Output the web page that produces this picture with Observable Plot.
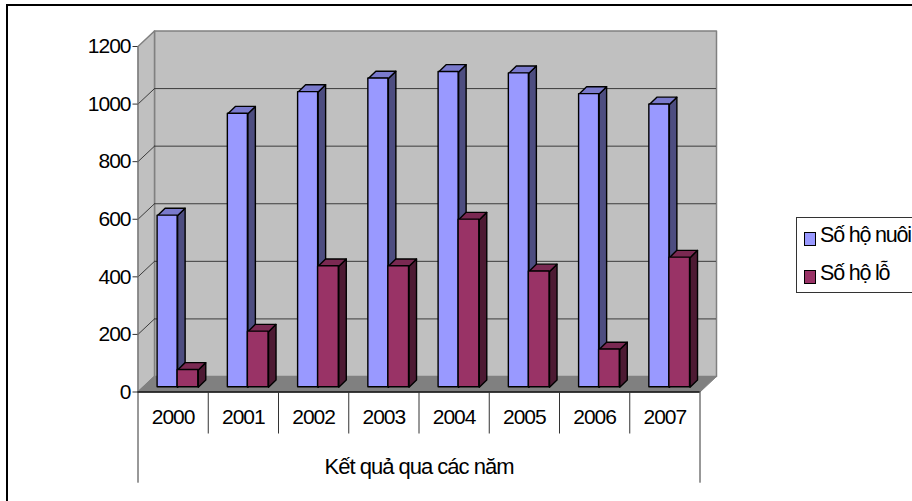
<!DOCTYPE html>
<html>
<head>
<meta charset="utf-8">
<script src="https://cdn.jsdelivr.net/npm/d3@7"></script>
<script src="https://cdn.jsdelivr.net/npm/@observablehq/plot@0.6"></script>
<style>
  html, body { margin: 0; padding: 0; background: #fff; overflow: hidden; }
  #stage { position: relative; width: 912px; height: 501px; overflow: hidden; font-family: "Liberation Sans", Arial, sans-serif; }
  #stage svg { position: absolute; left: 0; top: 0; }
  #frame { position: absolute; left: 6px; top: 4px; right: -4px; bottom: -4px; border: 2px solid #000; }
  #legend { position: absolute; left: 796px; top: 217px; width: 130px; height: 76px; box-sizing: border-box; border: 1px solid #333; background: #fff; }
  #legend .sw { position: absolute; left: 6.5px; width: 10px; height: 12px; border: 1px solid #000; }
  #legend .lb { position: absolute; left: 23px; font-size: 21.5px; letter-spacing: -1.2px; line-height: 24px; white-space: nowrap; color: #000; }
</style>
</head>
<body>
<div id="stage"><div id="frame"></div></div>
<script>
// Household counts per year
const years = [2000, 2001, 2002, 2003, 2004, 2005, 2006, 2007];
const soHoNuoi = [596, 950, 1025, 1072, 1095, 1090, 1018, 982];
const soHoLo = [60, 193, 420, 420, 582, 402, 131, 450];
const yTicks = [0, 200, 400, 600, 800, 1000, 1200];
const seriesNames = ["Số hộ nuôi", "Số hộ lỗ"];
const axisTitle = "Kết quả qua các năm";

// Colours: front, top and side face of each series, plus the chart box
const blue = { front: "#9999FF", top: "#7A7ACC", side: "#4D4D80" };
const maroon = { front: "#993366", top: "#7A2952", side: "#4D1A33" };
const wallFill = "#C0C0C0", floorFill = "#808080", edge = "#808080", gridStroke = "#3C3C3C";

// Plot area in pixels; the oblique projection is expressed in data units through these
const plotLeft = 137.5, plotRight = 699.5, plotBase = 391.5, plotTop = 46;
const unitsX = px => px * 8 / (plotRight - plotLeft);
const unitsY = px => px * 1200 / (plotBase - plotTop);

const wallDX = unitsX(16.5), wallDY = unitsY(15.5);
const barDX = unitsX(7.5), barDY = unitsY(7.3);
const barBase = unitsY(4.8);
const slots = [[0.279, 0.564], [0.564, 0.858]];

// Closed polygons drawn with a line mark: one row per corner, grouped by face
function polygon(corners, options) {
  const rows = corners.flatMap((c, i) => c.map(([x, y]) => ({ id: i, x, y })));
  return Plot.line(rows, { x: "x", y: "y", z: "id", curve: "linear-closed", ...options });
}

function barMarks(values, slot, colors) {
  const x1 = i => i + slot[0], x2 = i => i + slot[1];
  const rows = values.map((v, i) => ({ i, v }));
  const sides = rows.map(({ i, v }) => [
    [x2(i), barBase], [x2(i) + barDX, barBase + barDY],
    [x2(i) + barDX, barBase + v + barDY], [x2(i), barBase + v]
  ]);
  const tops = rows.map(({ i, v }) => [
    [x1(i), barBase + v], [x1(i) + barDX, barBase + v + barDY],
    [x2(i) + barDX, barBase + v + barDY], [x2(i), barBase + v]
  ]);
  const faceStyle = { stroke: "#000", strokeWidth: 1.4, strokeLinejoin: "round" };
  return [
    polygon(sides, { fill: colors.side, ...faceStyle }),
    polygon(tops, { fill: colors.top, ...faceStyle }),
    Plot.rect(rows, {
      x1: d => x1(d.i), x2: d => x2(d.i),
      y1: barBase, y2: d => barBase + d.v,
      fill: colors.front, ...faceStyle
    })
  ];
}

const innerTicks = yTicks.filter(t => t > 0 && t < 1200);
const tickDepth = unitsY(42), outerDepth = unitsY(91.2);

const chart = Plot.plot({
  width: 912,
  height: 501,
  marginLeft: plotLeft,
  marginRight: 912 - plotRight,
  marginTop: plotTop,
  marginBottom: 501 - plotBase,
  x: { domain: [0, 8], range: [plotLeft, plotRight], axis: null },
  y: { domain: [0, 1200], range: [plotBase, plotTop] },
  style: {
    background: "transparent",
    fontFamily: '"Liberation Sans", Arial, sans-serif',
    fontSize: "21px",
    letterSpacing: "-1px",
    color: "#000",
    overflow: "visible"
  },
  marks: [
    // Back wall, side wall and floor
    polygon([[[wallDX, wallDY], [8 + wallDX, wallDY], [8 + wallDX, 1200 + wallDY], [wallDX, 1200 + wallDY]]],
      { fill: wallFill, stroke: edge, strokeWidth: 1.5 }),
    polygon([[[0, 0], [wallDX, wallDY], [wallDX, 1200 + wallDY], [0, 1200]]],
      { fill: wallFill, stroke: edge, strokeWidth: 1.5 }),
    polygon([[[0, 0], [8, 0], [8 + wallDX, wallDY], [wallDX, wallDY]]],
      { fill: floorFill, stroke: edge, strokeWidth: 1 }),
    // Gridlines run along the back wall and fold down the side wall
    Plot.ruleY(innerTicks, { x1: wallDX, x2: 8 + wallDX, y: t => t + wallDY, stroke: gridStroke, strokeWidth: 1 }),
    polygon(innerTicks.map(t => [[0, t], [wallDX, t + wallDY]]),
      { stroke: gridStroke, strokeWidth: 1, fill: "none", curve: "linear" }),
    // Bars, one series after the other
    ...barMarks(soHoNuoi, slots[0], blue),
    ...barMarks(soHoLo, slots[1], maroon),
    // Value axis
    Plot.ruleX([0], { y1: 0, y2: 1200, stroke: edge, strokeWidth: 1 }),
    Plot.axisY({ ticks: yTicks, tickSize: 5, tickPadding: 2.5, tickFormat: d => String(d), label: null, stroke: "#333", strokeOpacity: 1, fontSize: 21 }),
    // Category axis with its two rows of labels
    Plot.ruleY([0], { x1: 0, x2: 8, stroke: "#111", strokeWidth: 1.5 }),
    Plot.ruleX(d3.range(1, 8), { x: d => d, y1: 0, y2: -tickDepth, stroke: "#333", strokeWidth: 1 }),
    Plot.ruleX([0, 8], { x: d => d, y1: 0, y2: -outerDepth, stroke: "#333", strokeWidth: 1 }),
    Plot.text(years, { x: (d, i) => i + 0.5, y: -unitsY(25), text: d => String(d), fontSize: 21, fill: "#000" }),
    Plot.text([axisTitle], { x: 4, y: -unitsY(74.5), text: d => d, fontSize: 22, fill: "#000" })
  ]
});
document.getElementById("stage").appendChild(chart);

// Series key placed to the right of the plot
const legend = document.createElement("div");
legend.id = "legend";
[blue, maroon].forEach((c, i) => {
  const sw = document.createElement("div");
  sw.className = "sw";
  sw.style.top = (i === 0 ? 13.5 : 51.5) + "px";
  sw.style.background = c.front;
  legend.appendChild(sw);
  const lb = document.createElement("div");
  lb.className = "lb";
  lb.style.top = (i === 0 ? 5 : 43) + "px";
  lb.textContent = seriesNames[i];
  legend.appendChild(lb);
});
document.getElementById("stage").appendChild(legend);
</script>
</body>
</html>
